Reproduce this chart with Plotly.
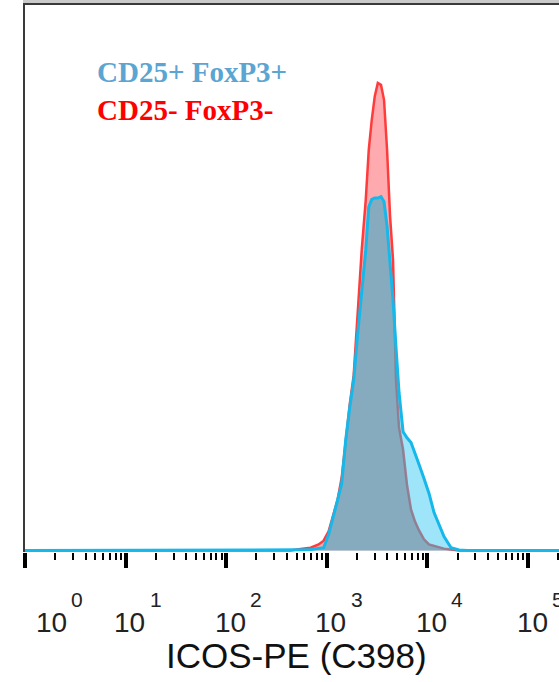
import numpy as np
import plotly.graph_objects as go

# ICOS-PE fluorescence intensity (shared bins for both populations)
intensity = [1, 346, 435, 548, 690, 829, 929, 1042, 1169, 1282, 1406, 1542, 1690,
             1851, 2028, 2224, 2438, 2612, 2798, 2999, 3214, 3457, 3706, 3972,
             4246, 4550, 4875, 5224, 5728, 6266, 6871, 7534, 8260, 9247, 10376,
             11641, 13032, 14622, 17179, 20606, 24774, 250000]

# Normalised event counts (% of mode of the CD25- FoxP3- population)
neg_counts = [0, 0, 0, 0.3, 0.6, 1.3, 2.1, 4.1, 7.7, 10.9, 15.6, 23.7, 31.2,
              37.5, 51.5, 64.3, 75.0, 85.7, 92.1, 97.2, 100, 99.6, 96.4, 85.7,
              71.8, 62.2, 36.5, 26.3, 21.6, 14.1, 8.8, 6.2, 4.3, 2.4, 1.3,
              1.0, 0.6, 0.4, 0.2, 0, 0, 0]
pos_counts = [0, 0, 0.1, 0.15, 0.2, 0.4, 0.6, 3.4, 7.3, 10.9, 14.3, 23.7, 30.6,
              36.5, 46.4, 55.8, 64.3, 73.5, 75.1, 75.4, 75.4, 75.7, 74.6, 69.4,
              61.8, 53.6, 43.4, 33.8, 25.4, 24.1, 23.1, 20.5, 18.4, 15.4, 12.2,
              8.1, 5.6, 3.0, 0.6, 0.1, 0, 0]

series_names = ["CD25+ FoxP3+", "CD25- FoxP3-"]
exponents = [0, 1, 2, 3, 4, 5]
x_title = "ICOS-PE (C398)"

RED_LINE = "#ff3c3c"
RED_FILL = "#ffaaaf"
BLUE_LINE = "#16b8ea"
BLUE_FILL = "rgba(50,200,245,0.47)"
SHARED_FILL = "rgba(77,138,151,0.30)"

shared = np.minimum(neg_counts, pos_counts)

fig = go.Figure()
# CD25- FoxP3- histogram
fig.add_trace(go.Scatter(x=intensity, y=neg_counts, mode="lines", fill="tozeroy",
                         fillcolor=RED_FILL, line=dict(color=RED_LINE, width=2.5),
                         hoverinfo="skip", showlegend=False))
# CD25+ FoxP3+ histogram (translucent fill over the red one)
fig.add_trace(go.Scatter(x=intensity, y=pos_counts, mode="none", fill="tozeroy",
                         fillcolor=BLUE_FILL, hoverinfo="skip", showlegend=False))
# overlap tint
fig.add_trace(go.Scatter(x=intensity, y=shared, mode="none", fill="tozeroy",
                         fillcolor=SHARED_FILL, hoverinfo="skip", showlegend=False))
# CD25+ FoxP3+ outline
fig.add_trace(go.Scatter(x=intensity, y=pos_counts, mode="lines",
                         line=dict(color=BLUE_LINE, width=3),
                         hoverinfo="skip", showlegend=False))

annotations = []
label_font = dict(family="Liberation Sans, Arial, sans-serif", size=28, color="#222")
sup_font = dict(family="Liberation Sans, Arial, sans-serif", size=21, color="#222")
for k in exponents:
    base_shift = 26 if k == 0 else 4
    annotations.append(dict(x=k, xref="x", y=-0.128, yref="paper", text="10",
                            showarrow=False, xanchor="center", yanchor="middle",
                            xshift=base_shift, font=label_font))
    annotations.append(dict(x=k, xref="x", y=-0.087, yref="paper", text=str(k),
                            showarrow=False, xanchor="center", yanchor="middle",
                            xshift=base_shift + 26, font=sup_font))

annotations.append(dict(x=0.5075, xref="paper", y=-0.188, yref="paper", text=x_title,
                        showarrow=False, xanchor="center", yanchor="middle",
                        font=dict(family="Liberation Sans, Arial, sans-serif",
                                  size=35, color="#111")))

legend_font = dict(family="Liberation Serif, Times New Roman, serif", size=29,
                   weight="bold")
annotations.append(dict(x=0.1310, xref="paper", y=0.8760, yref="paper",
                        text=series_names[0], showarrow=False, xanchor="left",
                        yanchor="middle", font=dict(legend_font, color="#5aa5d2")))
annotations.append(dict(x=0.1310, xref="paper", y=0.8070, yref="paper",
                        text=series_names[1], showarrow=False, xanchor="left",
                        yanchor="middle", font=dict(legend_font, color="#ff0000")))

fig.update_layout(
    width=559, height=682,
    margin=dict(l=25, r=0, t=4, b=130),
    paper_bgcolor="white", plot_bgcolor="white",
    annotations=annotations,
    shapes=[
        dict(type="rect", xref="paper", yref="paper", x0=-2 / 534, x1=1,
             y0=1 + 1 / 548, y1=1 + 4 / 548, fillcolor="#cacaca", line=dict(width=0)),
        dict(type="line", xref="paper", yref="paper", x0=-2 / 534, x1=1, y0=1, y1=1,
             line=dict(color="#3a3a3a", width=2)),
    ],
)
fig.update_xaxes(
    type="log", range=[0, 5.308], showgrid=False, zeroline=False, showline=False,
    tickmode="linear", tick0=0, dtick=1, ticks="outside", ticklen=15, tickwidth=4,
    tickcolor="black", showticklabels=False,
    minor=dict(ticks="outside", ticklen=7, tickwidth=2, tickcolor="black",
               dtick="D1", showgrid=False),
)
fig.update_yaxes(
    range=[-0.32, 116.9], showgrid=False, zeroline=False, showticklabels=False,
    ticks="", showline=True, linecolor="#3a3a3a", linewidth=2,
)

fig.write_html("out.html")
